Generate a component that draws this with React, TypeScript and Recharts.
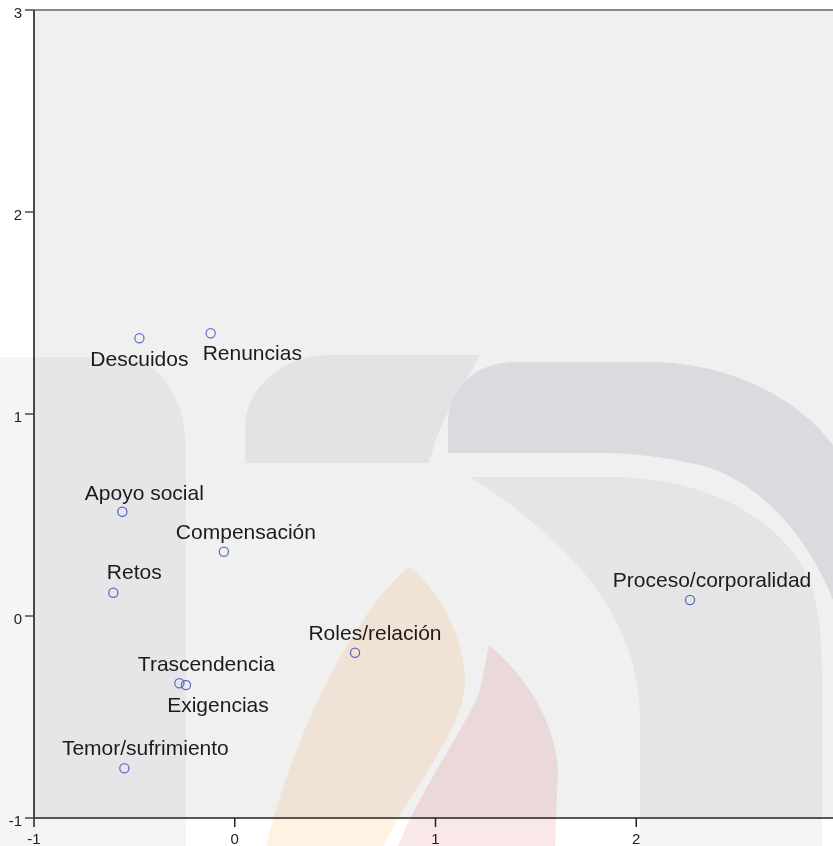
import React from 'react';
import {
  ScatterChart,
  Scatter,
  XAxis,
  YAxis,
  CartesianGrid,
  ReferenceLine,
} from 'recharts';

// ---- Data ----
const categories = [
  'Descuidos',
  'Renuncias',
  'Apoyo social',
  'Compensación',
  'Retos',
  'Proceso/corporalidad',
  'Roles/relación',
  'Trascendencia',
  'Exigencias',
  'Temor/sufrimiento',
];
const dimension1 = [-0.475, -0.12, -0.56, -0.054, -0.605, 2.268, 0.599, -0.276, -0.243, -0.55];
const dimension2 = [1.375, 1.4, 0.516, 0.318, 0.115, 0.079, -0.182, -0.333, -0.342, -0.754];
const xTicks = [-1, 0, 1, 2];
const yTicks = [-1, 0, 1, 2, 3];

// label placement relative to each point (layout only)
const labelPlacement: Record<string, { anchor: 'start' | 'middle' | 'end'; dx: number; dy: number }> = {
  'Descuidos': { anchor: 'middle', dx: 0, dy: 28 },
  'Renuncias': { anchor: 'start', dx: -8, dy: 27 },
  'Apoyo social': { anchor: 'middle', dx: 22, dy: -12 },
  'Compensación': { anchor: 'middle', dx: 22, dy: -13 },
  'Retos': { anchor: 'middle', dx: 21, dy: -14 },
  'Proceso/corporalidad': { anchor: 'middle', dx: 22, dy: -13 },
  'Roles/relación': { anchor: 'middle', dx: 20, dy: -13 },
  'Trascendencia': { anchor: 'middle', dx: 27, dy: -12.5 },
  'Exigencias': { anchor: 'middle', dx: 32, dy: 27 },
  'Temor/sufrimiento': { anchor: 'middle', dx: 21, dy: -13 },
};

const data = categories.map((name, i) => ({ name, x: dimension1[i], y: dimension2[i] }));

const FONT = '"Liberation Sans", Arial, sans-serif';

const PointShape = (props: any) => {
  const { cx, cy, payload } = props;
  if (cx == null || cy == null) return null;
  const p = labelPlacement[payload.name] || { anchor: 'middle', dx: 0, dy: -13 };
  return (
    <g>
      <circle cx={cx} cy={cy} r={4.6} fill="none" stroke="#5f72cc" strokeWidth={1.3} />
      <text
        x={cx + p.dx}
        y={cy + p.dy}
        textAnchor={p.anchor}
        fontSize={21}
        fontFamily={FONT}
        fill="#1c1c1c"
      >
        {payload.name}
      </text>
    </g>
  );
};

const YTick = (props: any) => {
  const { x, y, payload } = props;
  return (
    <text x={x} y={y + 8.4} textAnchor="end" fontSize={15} fontFamily={FONT} fill="#222">
      {payload.value}
    </text>
  );
};

const XTick = (props: any) => {
  const { x, payload } = props;
  return (
    <text x={x} y={844} textAnchor="middle" fontSize={15} fontFamily={FONT} fill="#222">
      {payload.value}
    </text>
  );
};

// faint watermark behind the plot (decoration, multiplied over the chart)
const Watermark = () => (
  <svg
    width={833}
    height={846}
    style={{ position: 'absolute', left: 0, top: 0, mixBlendMode: 'multiply', pointerEvents: 'none' }}
  >
    <path d="M0,357 H120 C160,357 186,400 186,450 V846 H0 Z" fill="#f5f5f8" />
    <path d="M245,463 V430 C245,385 285,355 330,355 H480 C462,390 440,420 433,450 L428,463 Z" fill="#f2f2f5" />
    <path d="M448,453 V425 C448,388 475,362 515,362 H650 C730,362 800,400 833,445 V600 C810,540 760,480 700,465 C660,456 630,453 600,453 Z" fill="#e9e9ed" />
    <path d="M470,477 H620 C720,480 800,530 815,600 C822,630 822,660 822,690 V846 H640 V720 C640,640 600,560 470,477 Z" fill="#f4f4f7" />
    <path d="M409,567 C440,590 465,640 465,680 C465,730 410,790 383,846 H266 C285,770 320,680 372,607 C385,590 398,575 409,567 Z" fill="#fff2e3" />
    <path d="M489,645 C525,675 555,720 558,770 L555,846 H398 C420,790 470,720 480,690 Z" fill="#fae7e8" />
  </svg>
);

export default function App() {
  return (
    <div
      style={{
        position: 'absolute',
        left: 0,
        top: 0,
        width: 833,
        height: 846,
        overflow: 'hidden',
        background: '#ffffff',
      }}
    >
      <ScatterChart width={837} height={846} margin={{ top: 10, right: 0, bottom: 0, left: 0 }}>
        <CartesianGrid fill="#f0f0f0" stroke="none" />
        <XAxis
          type="number"
          dataKey="x"
          domain={[-1, 3]}
          ticks={xTicks}
          allowDataOverflow
          height={28}
          tickSize={9}
          tickMargin={6}
          axisLine={{ stroke: '#222', strokeWidth: 1.5 }}
          tickLine={{ stroke: '#222', strokeWidth: 1.5 }}
          tick={<XTick />}
        />
        <YAxis
          type="number"
          dataKey="y"
          domain={[-1, 3]}
          ticks={yTicks}
          allowDataOverflow
          width={34}
          tickSize={9}
          tickMargin={3}
          axisLine={{ stroke: '#4a4a4a', strokeWidth: 2 }}
          tickLine={{ stroke: '#4a4a4a', strokeWidth: 1.5 }}
          tick={<YTick />}
        />
        <ReferenceLine y={3} stroke="#8a8a8a" strokeWidth={2} />
        <Scatter data={data} isAnimationActive={false} shape={<PointShape />} />
      </ScatterChart>
      <Watermark />
    </div>
  );
}
